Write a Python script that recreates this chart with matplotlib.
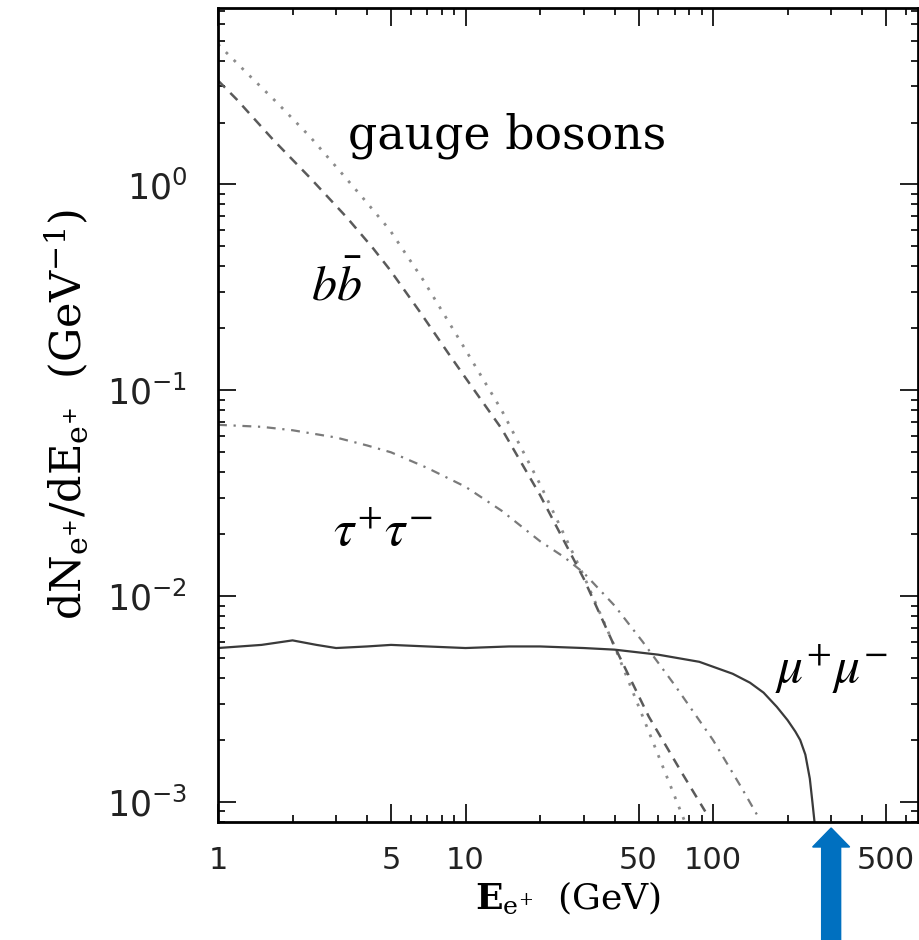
import matplotlib.pyplot as plt
from matplotlib.ticker import FixedLocator, LogLocator, NullFormatter, LogFormatterMathtext
from matplotlib.patches import FancyArrow

# gauge bosons (dotted)
E_gauge = [1.0, 1.35, 1.73, 2.35, 3.11, 3.85, 4.95, 6.73, 9.68, 14, 20, 30, 40, 55, 77]
N_gauge = [4.8, 3.35, 2.5, 1.71, 1.16, 0.86, 0.60, 0.345, 0.168, 0.080, 0.035, 0.0126, 0.0057, 0.0022, 0.0008]

# b bbar (dashed)
E_bb = [1.0, 1.19, 1.67, 2.35, 3.32, 4.23, 4.95, 6.55, 8.5, 10, 14, 20, 30, 40, 55, 75, 93]
N_bb = [3.2, 2.59, 1.65, 1.08, 0.69, 0.49, 0.385, 0.24, 0.152, 0.115, 0.065, 0.031, 0.0122, 0.0057, 0.0026,
        0.00138, 0.0009]

# tau+ tau- (dash-dot)
E_tau = [1.0, 1.5, 2, 3, 4, 5, 7, 10, 14, 20, 25, 30, 40, 52, 70, 100, 130, 152]
N_tau = [0.068, 0.0665, 0.064, 0.059, 0.054, 0.050, 0.042, 0.034, 0.026, 0.0185, 0.0155, 0.0130, 0.0090, 0.0060,
         0.0037, 0.0020, 0.00118, 0.00085]

# mu+ mu- (solid)
E_mu = [1.0, 1.5, 2, 2.5, 3, 4, 5, 7, 10, 15, 20, 30, 40, 60, 88, 120, 141, 160, 181, 200, 215, 225, 236,
        246, 252, 257]
N_mu = [0.0056, 0.0058, 0.0061, 0.0058, 0.0056, 0.0057, 0.0058, 0.0057, 0.0056, 0.0057, 0.0057, 0.0056, 0.0055,
        0.0052, 0.0048, 0.0042, 0.0038, 0.0034, 0.0029, 0.0025, 0.0022, 0.0020, 0.0017, 0.0013, 0.0010, 0.0008]

x_ticks = [1, 5, 10, 50, 100, 500]
m_dm = 300

fig = plt.figure(figsize=(9.2, 9.4), dpi=100)
ax = fig.add_axes([218 / 920, 1 - 822 / 940, 700 / 920, 814 / 940])

ax.plot(E_gauge, N_gauge, color='#8c8c8c', lw=2.0, linestyle=(0, (1, 3)))
ax.plot(E_bb, N_bb, color='#5a5a5a', lw=1.8, linestyle=(0, (4, 3)))
ax.plot(E_tau, N_tau, color='#7a7a7a', lw=1.6, linestyle=(0, (4, 3, 1, 3)))
ax.plot(E_mu, N_mu, color='#3a3a3a', lw=1.6)

ax.set_xscale('log')
ax.set_yscale('log')
ax.set_xlim(1, 673)
ax.set_ylim(8.0e-4, 7.2)

ax.xaxis.set_major_locator(FixedLocator(x_ticks))
ax.set_xticklabels([str(t) for t in x_ticks])
ax.xaxis.set_minor_locator(LogLocator(base=10, subs=[2, 3, 4, 6, 7, 8, 9]))
ax.xaxis.set_minor_formatter(NullFormatter())
ax.yaxis.set_major_locator(LogLocator(base=10))
ax.yaxis.set_major_formatter(LogFormatterMathtext())
ax.yaxis.set_minor_locator(LogLocator(base=10, subs=[2, 3, 4, 5, 6, 7, 8, 9]))
ax.yaxis.set_minor_formatter(NullFormatter())

for s in ax.spines.values():
    s.set_linewidth(2.0)
ax.tick_params(which='both', direction='in', top=True, right=True, width=1.4, colors='#222222')
ax.tick_params(which='major', length=13)
ax.tick_params(which='minor', length=5)
ax.tick_params(axis='x', labelsize=22, pad=17)
ax.tick_params(axis='y', labelsize=25, pad=22)

ax.set_xlabel(r'$\mathbf{E}_{\mathrm{e}^{+}}$  (GeV)', fontsize=26, family='DejaVu Serif',
              math_fontfamily='dejavuserif', labelpad=3)
ax.set_ylabel(r'dN$_{\mathrm{e}^{+}}$/dE$_{\mathrm{e}^{+}}$  (GeV$^{-1}$)', fontsize=31, family='DejaVu Serif',
              math_fontfamily='dejavuserif', labelpad=12)

ax.text(0.186, 0.828, 'gauge bosons', transform=ax.transAxes, fontsize=33, family='DejaVu Serif',
        ha='left', va='baseline')
ax.text(0.169, 0.641, r'$b\bar{b}$', transform=ax.transAxes, fontsize=36, math_fontfamily='stix',
        ha='center', va='baseline')
ax.text(0.235, 0.340, r'$\tau^{+}\tau^{-}$', transform=ax.transAxes, fontsize=37, math_fontfamily='stix',
        ha='center', va='baseline')
ax.text(0.876, 0.171, r'$\mu^{+}\mu^{-}$', transform=ax.transAxes, fontsize=37, math_fontfamily='stix',
        ha='center', va='baseline')

# blue arrow marking the dark matter mass
xpix = ax.transData.transform((m_dm, 1))[0]
x_in = xpix / fig.dpi
arrow = FancyArrow(x_in, 0, 0, 1.12, width=0.19, head_width=0.37, head_length=0.19,
                   length_includes_head=True, transform=fig.dpi_scale_trans,
                   color='#0070C0', clip_on=False)
fig.add_artist(arrow)

fig.savefig('out.png', dpi=100)
